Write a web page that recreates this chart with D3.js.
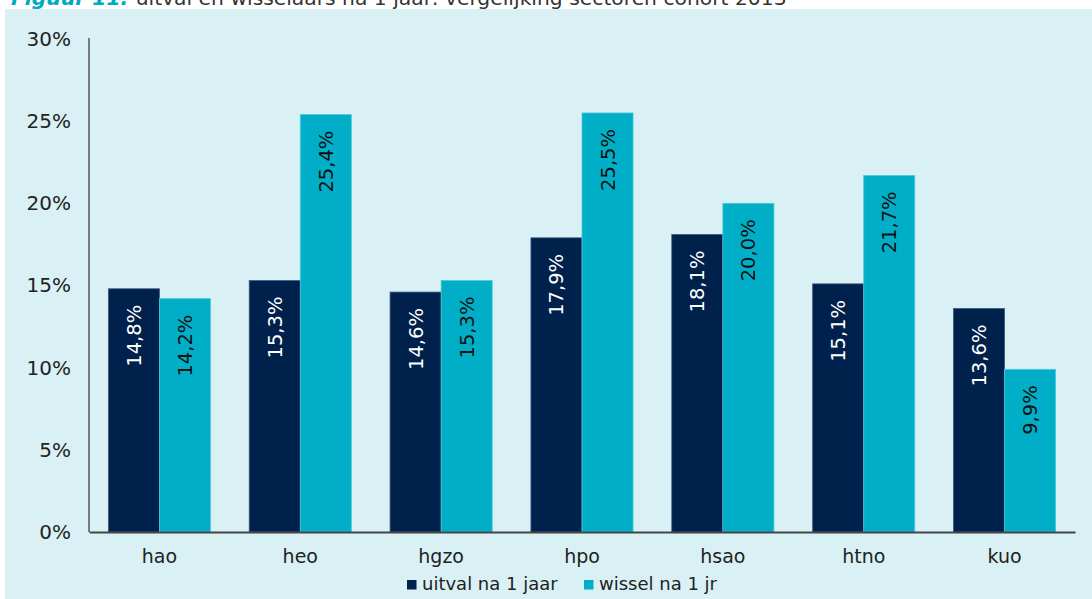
<!DOCTYPE html>
<html><head><meta charset="utf-8">
<script src="https://cdn.jsdelivr.net/npm/d3@7"></script>
<style>
html,body{margin:0;padding:0;background:#fff;}
svg{display:block;}
text{font-family:"DejaVu Sans",sans-serif;}
</style></head>
<body>
<svg id="chart" width="1092" height="599"></svg>
<script>
const categories = ["hao","heo","hgzo","hpo","hsao","htno","kuo"];
const seriesNames = ["uitval na 1 jaar","wissel na 1 jr"];
const uitval = [14.8,15.3,14.6,17.9,18.1,15.1,13.6];
const wissel = [14.2,25.4,15.3,25.5,20.0,21.7,9.9];
const yTicks = [0,5,10,15,20,25,30];
const colors = ["#00214b","#00afc7"];
const labelColors = ["#ffffff","#111111"];

(function(){
const svg = d3.select("#chart");
const W = 1092, H = 599;
svg.append("rect").attr("x",5).attr("y",9).attr("width",W-5).attr("height",H-9).attr("fill","#d9f1f5");

const title = svg.append("text").attr("x",11).attr("y",5).attr("font-size",20.3).attr("fill","#333");
title.append("tspan").attr("font-weight","bold").attr("font-style","italic").attr("fill","#00a9c4").text("Figuur 11: ");
title.append("tspan").text("uitval en wisselaars na 1 jaar: vergelijking sectoren cohort 2013");

const mLeft = 89, mRight = 1075, mTop = 38, mBottom = 532;
const y = d3.scaleLinear().domain([0,30]).range([mBottom, 39]);
const x0 = d3.scaleBand().domain(categories).range([mLeft,mRight]).paddingInner(0.275).paddingOuter(0.1375);
const x1 = d3.scaleBand().domain([0,1]).range([0,x0.bandwidth()]);

const data = categories.map((c,i)=>({cat:c, vals:[uitval[i],wissel[i]]}));
const fmt = v => d3.format(".1f")(v).replace(".",",") + "%";

const g = svg.append("g");
const groups = g.selectAll("g.grp").data(data).enter().append("g")
  .attr("transform", d=>`translate(${x0(d.cat)},0)`);
groups.selectAll("rect").data(d=>d.vals.map((v,k)=>({v,k}))).enter().append("rect")
  .attr("x", d=>x1(d.k)).attr("width", x1.bandwidth())
  .attr("y", d=>y(d.v)).attr("height", d=>y(0)-y(d.v))
  .attr("fill", d=>colors[d.k])
  .attr("stroke", d=> d.k===0 ? "#3a5a80" : "#4fc9dc").attr("stroke-width",0.8);
groups.selectAll("text").data(d=>d.vals.map((v,k)=>({v,k}))).enter().append("text")
  .attr("transform", d=>`translate(${x1(d.k)+x1.bandwidth()/2+7},${y(d.v)+16}) rotate(-90)`)
  .attr("text-anchor","end").attr("font-size",19.5).attr("fill", d=>labelColors[d.k])
  .text(d=>fmt(d.v));

const yAxis = d3.axisLeft(y).tickValues(yTicks).tickSize(0).tickPadding(18).tickFormat(d=>d+"%");
const ya = svg.append("g").attr("transform",`translate(${mLeft},0)`).call(yAxis);
ya.select(".domain").attr("d",`M0,${mTop}V${mBottom}`).attr("stroke","#555").attr("stroke-width",1.5);
ya.selectAll("text").attr("font-size",20).attr("fill","#222").attr("font-family","DejaVu Sans, sans-serif");

const xAxis = d3.axisBottom(x0).tickSize(0).tickPadding(18);
const xa = svg.append("g").attr("transform",`translate(0,${mBottom})`).call(xAxis);
xa.select(".domain").attr("stroke","#444").attr("stroke-width",2);
xa.selectAll("text").attr("font-size",19).attr("fill","#222").attr("font-family","DejaVu Sans, sans-serif");

const legendX = [407, 584];
const lg = svg.append("g");
seriesNames.forEach((n,i)=>{
  lg.append("rect").attr("x",legendX[i]).attr("y",580).attr("width",9.5).attr("height",9.5).attr("fill",colors[i]);
  lg.append("text").attr("x",legendX[i]+15).attr("y",590).attr("font-size",18).attr("fill","#222").text(n);
});
})();
</script>
</body></html>
